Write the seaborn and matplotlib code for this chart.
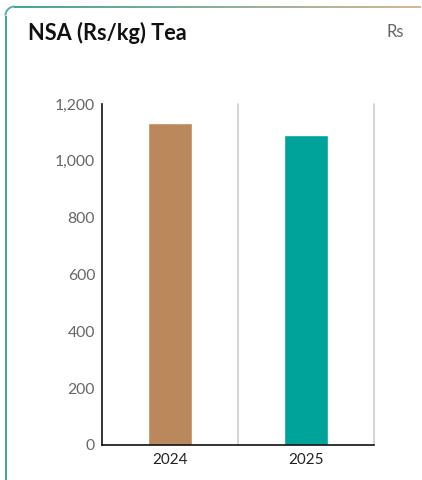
import numpy as np
import pandas as pd
import matplotlib
matplotlib.use("Agg")
import matplotlib.pyplot as plt
import seaborn as sns
from matplotlib.collections import LineCollection
from matplotlib.colors import to_rgb
from matplotlib.ticker import FuncFormatter, FixedLocator

# Data
years = ["2024", "2025"]
nsa_values = [1133, 1091]
bar_colors = ["#BA885A", "#00A39A"]
y_ticks = [0, 200, 400, 600, 800, 1000, 1200]

sns.set_theme(style="white")
plt.rcParams["font.family"] = ["Lato", "DejaVu Sans"]

W, H = 422, 480
fig = plt.figure(figsize=(W / 100, H / 100), dpi=100)
fig.patch.set_facecolor("white")

# Card outline: teal left edge, rounded top-left corner, top edge fading teal -> tan
r = 9.0
x0, y0 = 5.5, 6.5
pts = [(x0, H)]
pts += [(x0, t) for t in np.linspace(H, y0 + r, 60)[1:]]
for a in np.linspace(np.pi, 1.5 * np.pi, 20):
    pts.append((x0 + r + r * np.cos(a), y0 + r + r * np.sin(a)))
pts += [(t, y0) for t in np.linspace(x0 + r, W - 1.5, 200)]
pts = np.array(pts)
segs = np.stack([pts[:-1], pts[1:]], axis=1)
teal = np.array(to_rgb("#2A9D8F"))
tan = np.array(to_rgb("#D2B08C"))
cols = []
for s in segs:
    mx = (s[0][0] + s[1][0]) / 2
    my = (s[0][1] + s[1][1]) / 2
    if my > y0 + r:
        cols.append(teal)
    else:
        f = np.clip((mx - x0) / (W - x0), 0, 1)
        cols.append(teal * (1 - f) + tan * f)
# pixel coords (top-left origin) to figure fraction
segs_fig = segs.copy()
segs_fig[..., 0] = segs[..., 0] / W
segs_fig[..., 1] = 1 - segs[..., 1] / H
lc = LineCollection(segs_fig, colors=cols, linewidths=1.3, transform=fig.transFigure)
fig.add_artist(lc)

# Header texts
fig.text(28 / W, 1 - 33 / H, "NSA (Rs/kg) Tea", fontsize=15.7, fontweight="bold",
         color="#111111", ha="left", va="center")
fig.text(404 / W, 1 - 32 / H, "Rs", fontsize=12, color="#666666",
         ha="right", va="center")

# Chart area
ax = fig.add_axes([102 / W, 1 - 445 / H, (374 - 102) / W, (445 - 104) / H])
df = pd.DataFrame({"year": years, "value": nsa_values})
sns.barplot(data=df, x="year", y="value", hue="year", palette=bar_colors,
            width=0.32, legend=False, ax=ax, saturation=1)

ax.set_xlim(-0.5, 1.5)
ax.set_ylim(0, 1200)
ax.yaxis.set_major_locator(FixedLocator(y_ticks))
ax.yaxis.set_major_formatter(FuncFormatter(lambda v, p: f"{int(v):,}"))
ax.set_xlabel("")
ax.set_ylabel("")
ax.grid(False)

# Category separators
for xv in [0.5, 1.5]:
    ax.axvline(xv, color="#CCCCCC", linewidth=1.2, zorder=0, clip_on=False)

for side in ["top", "right"]:
    ax.spines[side].set_visible(False)
for side in ["left", "bottom"]:
    ax.spines[side].set_visible(True)
    ax.spines[side].set_color("#111111")
    ax.spines[side].set_linewidth(1.2)
    ax.spines[side].set_zorder(3)

ax.tick_params(axis="y", which="both", length=0, pad=5, labelsize=11.3, labelcolor="#666666")
ax.tick_params(axis="x", which="both", length=0, pad=6, labelsize=11, labelcolor="#222222")

fig.savefig("out.png", dpi=100, facecolor="white")
